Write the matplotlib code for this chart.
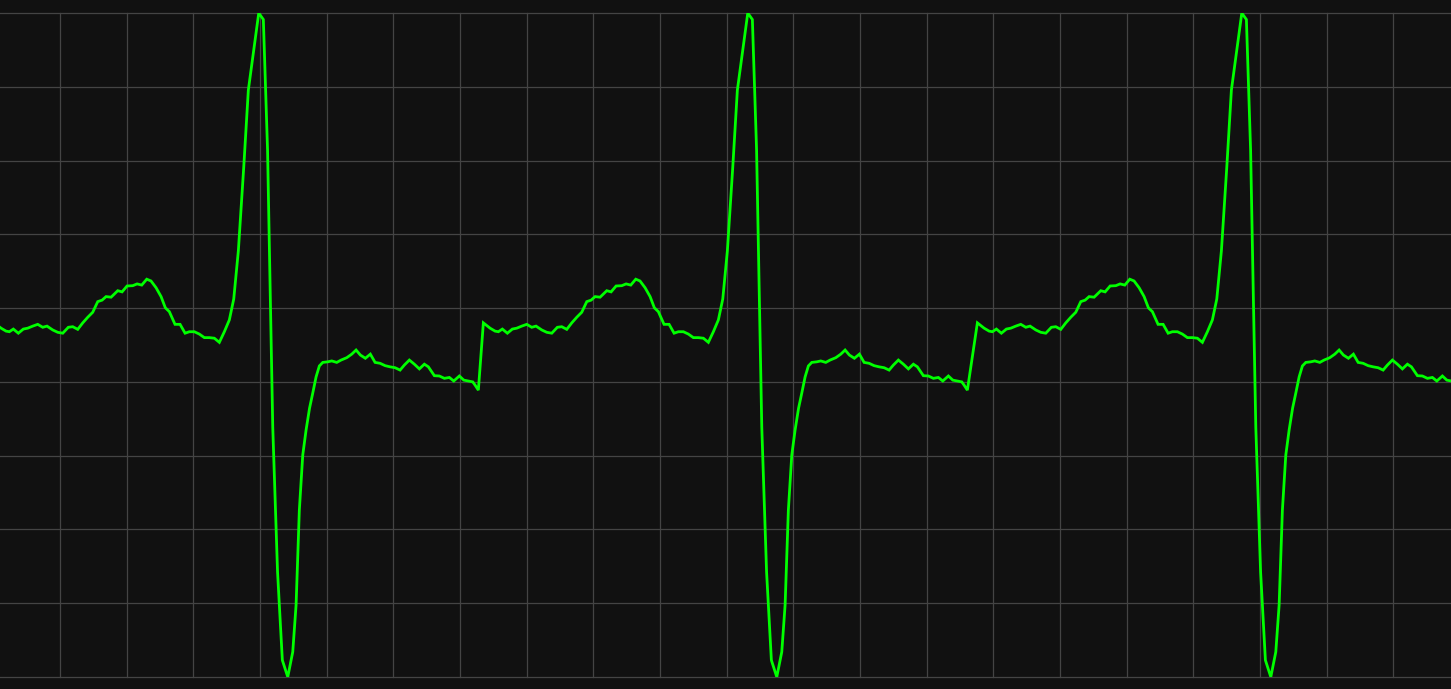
import numpy as np
from matplotlib import pyplot as plt
from matplotlib.ticker import MultipleLocator

# one heartbeat, time from beat onset (ms) and amplitude (mV)
beat_ms = [0, 10.1, 17.6, 22.5, 28.5, 36, 43.5, 50.1, 57.6, 65.1, 72.6, 79, 87.6, 95.1,
           102.6, 111, 117.6, 125.1, 132.6, 140.1, 147.6, 155.1, 161.6, 167.6, 175.1,
           185.1, 191.6, 199.1, 207.6, 214.1, 221.1, 228.6, 235, 242.6, 250.1, 256.5,
           262.5, 271, 278.6, 286.1, 292.5, 300, 307.5, 315, 322.5, 330, 337.5, 345,
           352.5, 359.1, 366, 374.1, 381, 396.6, 403.5, 409.8, 417.6, 424.8, 432,
           440.1, 447.6, 452.6, 457.5, 462.6, 467.6, 472.8, 477.6, 482.6, 487.5, 492.6,
           500.1, 506.1, 513.6, 520.1, 528.6, 536.1, 542.6, 549, 556.5, 564, 571.1,
           578.6, 586.1, 593.6, 601.1, 608.6, 615, 622.5, 630, 637.5, 645, 651, 660,
           667.5, 675, 682.5, 689.1, 697.5, 704.1, 711, 717.6, 721.1, 726]
beat_mv = [0.200, 0.182, 0.172, 0.170, 0.179, 0.165, 0.179, 0.182, 0.189, 0.195, 0.185,
           0.189, 0.176, 0.168, 0.165, 0.185, 0.187, 0.178, 0.200, 0.219, 0.236, 0.272,
           0.277, 0.289, 0.287, 0.309, 0.305, 0.325, 0.326, 0.332, 0.328, 0.348, 0.342,
           0.319, 0.289, 0.251, 0.238, 0.195, 0.195, 0.165, 0.170, 0.170, 0.162, 0.150,
           0.150, 0.148, 0.134, 0.170, 0.210, 0.281, 0.444, 0.728, 0.989, 1.250, 1.228,
           0.786, -0.153, -0.644, -0.943, -1.000, -0.915, -0.756, -0.434, -0.248,
           -0.163, -0.089, -0.038, 0.017, 0.054, 0.066, 0.068, 0.071, 0.066, 0.074, 0.082,
           0.094, 0.108, 0.091, 0.080, 0.094, 0.066, 0.063, 0.055, 0.051, 0.048, 0.040,
           0.057, 0.074, 0.060, 0.044, 0.060, 0.051, 0.021, 0.020, 0.012, 0.015, 0.003,
           0.020, 0.006, 0.003, 0.000, -0.011, -0.028]

# beat onsets (s)
onsets = [0.0015, 0.735, 1.476]

t = np.concatenate([on + np.array(beat_ms) / 1000 for on in onsets])
v = np.concatenate([beat_mv for _ in onsets])

fig = plt.figure(figsize=(14.51, 6.89), dpi=100, facecolor='#111111')
ax = fig.add_axes([0, 12 / 689, 1, 664 / 689])
ax.set_facecolor('#111111')

ax.plot(t, v, color='#00ff00', linewidth=2.0, solid_joinstyle='miter', zorder=3)

ax.set_xlim(0.01, 0.01 + 1451 / 666.7)
ax.set_ylim(-1.0, 1.25)
ax.xaxis.set_major_locator(MultipleLocator(0.1))
ax.yaxis.set_major_locator(MultipleLocator(0.25))
ax.grid(True, color='#444444', linewidth=0.9)
for line in ax.get_xgridlines() + ax.get_ygridlines():
    line.set_clip_on(False)
ax.tick_params(length=0, labelbottom=False, labelleft=False)
for spine in ax.spines.values():
    spine.set_visible(False)

fig.savefig('out.png', dpi=100, facecolor=fig.get_facecolor())
